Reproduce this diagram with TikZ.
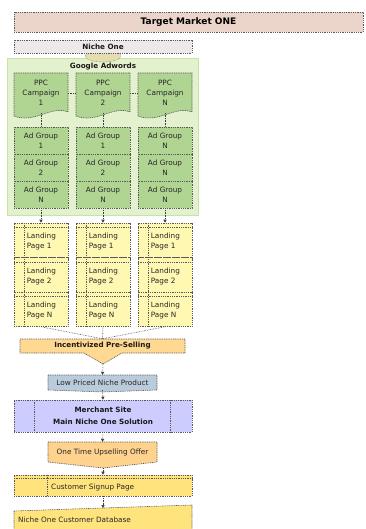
\documentclass[tikz,border=0pt]{standalone}
\usepackage{fontspec}
\setmainfont{DejaVu Sans}
\usepackage{xcolor}
\usetikzlibrary{arrows.meta, positioning, calc, shapes.geometric}
\definecolor{targetcolor}{HTML}{EBD5CB}
\definecolor{nichecolor}{HTML}{EEE9E9}
\definecolor{adwordsfill}{HTML}{E4F1CE}
\definecolor{adwordsdraw}{HTML}{C8E3A4}
\definecolor{ppccolor}{HTML}{B0D492}
\definecolor{landcolor}{HTML}{FFF8B3}
\definecolor{precolor}{HTML}{FFD892}
\definecolor{lowcolor}{HTML}{BACBDB}
\definecolor{merchantcolor}{HTML}{CCCCFF}
\definecolor{upsellcolor}{HTML}{FFD28E}
\definecolor{signupcolor}{HTML}{FFE47E}
\definecolor{joincolor}{HTML}{E3DDB0}

\begin{document}
\begin{tikzpicture}[
    x=1pt, y=-1pt,
    outline/.style={draw=black!65, line width=0.6pt, dash pattern=on 1pt off 0.8pt},
    link/.style={draw=black!75, line width=0.6pt, densely dotted},
    arrowlink/.style={link, -{Triangle[length=3pt,width=3.2pt]}},
    boldtext/.style={font=\bfseries\fontsize{7.2}{11.5}\selectfont, text=black!90},
    plaintext/.style={font=\fontsize{7.3}{9.8}\selectfont, text=black!85},
    rowbox/.style={outline, minimum width=178pt, inner sep=0pt},
    colbox/.style={outline, minimum width=54pt, inner sep=0pt}
]
\useasboundingbox (0,0) rectangle (365,529);

% Target market and niche
\node[rowbox, fill=targetcolor, minimum width=349pt, minimum height=20pt,
      font=\bfseries\fontsize{9}{10}\selectfont] (target) at (188.5,22) {Target Market ONE};

% Google Adwords container
\node[draw=adwordsdraw, fill=adwordsfill, line width=0.8pt, minimum width=191pt,
      minimum height=157pt, inner sep=0pt] (adwords) at (102.5,136.5) {};
\node[ellipse, draw=black!70, densely dotted, fill=joincolor, minimum width=36pt,
      minimum height=12pt, inner sep=0pt] (join) at (103,56) {};
\node[rowbox, fill=nichecolor, minimum height=13pt, boldtext] (niche) at (103,46.5) {Niche One};
\node[boldtext] (adtitle) at (103,66.5) {Google Adwords};

% Campaigns, ad groups, landing pages
\foreach \col/\cx/\tp/\ta/\tb/\tc in {1/41/1/1/2/N, 2/103/2/1/2/N, 3/165/N/N/N/N} {
    \filldraw[outline, fill=ppccolor] (\cx-27,73) -- (\cx+27,73) -- (\cx+27,112)
        .. controls (\cx+10,105) and (\cx-6,124) .. (\cx-27,116) -- cycle;
    \node[plaintext, align=center, minimum width=54pt, minimum height=40pt,
          inner sep=0pt] (ppc\col) at (\cx,93) {PPC\\Campaign\\\tp};
    \node[colbox, fill=ppccolor, minimum height=27pt, plaintext, align=center] (ag\col1) at (\cx,140.5) {Ad Group\\\ta};
    \node[colbox, fill=ppccolor, minimum height=27pt, plaintext, align=center] (ag\col2) at (\cx,167.5) {Ad Group\\\tb};
    \node[colbox, fill=ppccolor, minimum height=27pt, plaintext, align=center] (ag\col3) at (\cx,194.5) {Ad Group\\\tc};
    \draw[link] (ppc\col) -- (ag\col1);
    \foreach \row/\ry/\lt in {1/240.25/1, 2/274.75/2, 3/309.25/N} {
        \node[colbox, fill=landcolor, minimum height=34.5pt] (lp\col\row) at (\cx,\ry) {};
        \draw[outline] ($(lp\col\row.north west)+(11,0)$) -- ($(lp\col\row.south west)+(11,0)$);
        \draw[outline] ($(lp\col\row.north west)+(0,5)$) -- ($(lp\col\row.north east)+(0,5)$);
        \node[plaintext, anchor=west, align=left, inner sep=0pt] (lpt\col\row)
            at ($(lp\col\row.west)+(13,1.5)$) {Landing\\Page \lt};
    }
    \draw[arrowlink] (ag\col3) -- (lp\col1);
}
\draw[link] (ppc1) -- (ppc2);
\draw[link] (ppc2) -- (ppc3);

% Incentivized pre-selling
\filldraw[outline, fill=precolor] (20,339) -- (185,339) -- (185,353) -- (122,353)
    -- (103,364) -- (84,353) -- (20,353) -- cycle;
\node[boldtext, minimum width=165pt, minimum height=14pt, inner sep=0pt] (pre) at (102.5,346) {Incentivized Pre-Selling};
\coordinate (pretip) at (103,364);
\foreach \col in {1,2,3} {
    \draw[link] (lp\col3.south) -- (pre.north);
}

% Low priced product
\filldraw[outline, fill=lowcolor] (48,375) -- (157,375) -- (157,390) -- (103,392)
    -- (48,390) -- cycle;
\node[plaintext, minimum width=109pt, minimum height=15pt, inner sep=0pt] (low) at (102.5,382.5) {Low Priced Niche Product};

% Merchant site
\node[rowbox, fill=merchantcolor, minimum height=32pt, boldtext, align=center] (merchant) at (103,416) {Merchant Site\\Main Niche One Solution};
\draw[outline] ($(merchant.north west)+(21,0)$) -- ($(merchant.south west)+(21,0)$);
\draw[outline] ($(merchant.north east)+(-22,0)$) -- ($(merchant.south east)+(-22,0)$);

% Upselling offer
\filldraw[outline, fill=upsellcolor] (48,442) -- (157,442) -- (157,462) -- (103,468)
    -- (48,462) -- cycle;
\node[plaintext, minimum width=109pt, minimum height=20pt, inner sep=0pt] (upsell) at (102.5,452) {One Time Upselling Offer};
\coordinate (upselltip) at (103,468);

% Signup page
\node[rowbox, fill=signupcolor, minimum height=21pt] (signup) at (103,485.5) {};
\draw[outline] ($(signup.north west)+(34,0)$) -- ($(signup.south west)+(34,0)$);
\draw[outline] ($(signup.north west)+(0,4)$) -- ($(signup.north east)+(0,4)$);
\node[plaintext, anchor=west, inner sep=0pt] (signuptext) at (51,487) {Customer Signup Page};

% Customer database
\filldraw[outline, fill=signupcolor] (14,511) -- (192,505) -- (192,533) -- (14,533) -- cycle;
\node[plaintext, anchor=west, inner sep=0pt] (db) at (18,520) {Niche One Customer Database};
\coordinate (dbtop) at (103,508);

% Connectors
\draw[arrowlink] (pretip) -- (low.north);
\draw[arrowlink] (low.south) -- (merchant.north);
\draw[arrowlink] (merchant.south) -- (upsell.north);
\draw[arrowlink] (upselltip) -- (signup.north);
\draw[arrowlink] (signup.south) -- (dbtop);
\end{tikzpicture}
\end{document}
